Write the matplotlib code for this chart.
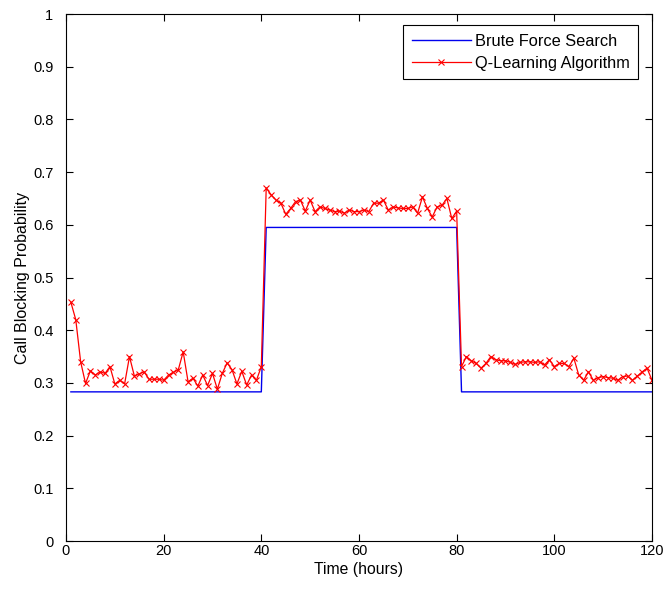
import numpy as np
import matplotlib.pyplot as plt

plt.rcParams['font.family'] = ['Liberation Sans', 'DejaVu Sans']

# hourly samples, hours 1..120
hours = np.arange(1, 121)

# brute force search: optimal blocking probability per period
bf_low = 0.283
bf_high = 0.595
brute_force = np.concatenate([
    np.full(40, bf_low),
    np.full(40, bf_high),
    np.full(40, bf_low),
])

# Q-learning blocking probability, hours 1-40
q_part1 = [0.453, 0.420, 0.340, 0.299, 0.323, 0.315, 0.321, 0.318, 0.331, 0.298,
           0.305, 0.298, 0.350, 0.313, 0.317, 0.321, 0.307, 0.307, 0.307, 0.305,
           0.315, 0.320, 0.325, 0.359, 0.302, 0.309, 0.294, 0.315, 0.295, 0.318,
           0.288, 0.318, 0.338, 0.325, 0.298, 0.322, 0.296, 0.315, 0.305, 0.331]
# hours 41-80
q_part2 = [0.670, 0.657, 0.647, 0.641, 0.620, 0.631, 0.644, 0.647, 0.626, 0.647,
           0.625, 0.634, 0.631, 0.628, 0.625, 0.626, 0.622, 0.628, 0.625, 0.625,
           0.628, 0.625, 0.641, 0.641, 0.647, 0.628, 0.634, 0.632, 0.631, 0.631,
           0.634, 0.622, 0.653, 0.631, 0.615, 0.634, 0.637, 0.650, 0.612, 0.626]
# hours 81-120
q_part3 = [0.331, 0.350, 0.342, 0.337, 0.328, 0.337, 0.350, 0.344, 0.342, 0.342,
           0.339, 0.335, 0.339, 0.340, 0.340, 0.339, 0.340, 0.334, 0.344, 0.331,
           0.337, 0.337, 0.331, 0.347, 0.315, 0.305, 0.321, 0.305, 0.310, 0.312,
           0.310, 0.309, 0.305, 0.312, 0.313, 0.305, 0.313, 0.321, 0.328, 0.305]
q_learning = np.array(q_part1 + q_part2 + q_part3)

fig = plt.figure(figsize=(6.68, 5.91), dpi=100)
ax = fig.add_axes([0.0988, 0.0846, 0.8772, 0.8917])

ax.plot(hours, brute_force, color='#0000ee', lw=1.0, label='Brute Force Search')
ax.plot(hours, q_learning, color='#ff0000', lw=0.9, marker='x', ms=5,
        mew=0.8, label='Q-Learning Algorithm')

ax.set_xlim(0, 120)
ax.set_ylim(0, 1)
ax.set_xticks(np.arange(0, 121, 20))
ax.set_yticks(np.arange(0, 1.01, 0.1))
ax.set_yticklabels(['0', '0.1', '0.2', '0.3', '0.4', '0.5', '0.6', '0.7', '0.8', '0.9', '1'])
ax.tick_params(direction='in', top=True, right=True, labelsize=10.5, length=5, width=0.8)
ax.tick_params(axis='y', pad=9)
ax.tick_params(axis='x', pad=2)
for s in ax.spines.values():
    s.set_linewidth(0.8)

ax.set_xlabel('Time (hours)', fontsize=11.3, labelpad=3)
ax.set_ylabel('Call Blocking Probability', fontsize=11.5, labelpad=2)

leg = ax.legend(loc='upper right', fontsize=11.8, fancybox=False, framealpha=1,
                edgecolor='black', borderpad=0.5, handlelength=3.6,
                handletextpad=0.3, labelspacing=0.45,
                bbox_to_anchor=(0.991, 0.994), markerscale=0.8)
leg.get_frame().set_linewidth(0.8)

fig.savefig('out.png', dpi=100)
